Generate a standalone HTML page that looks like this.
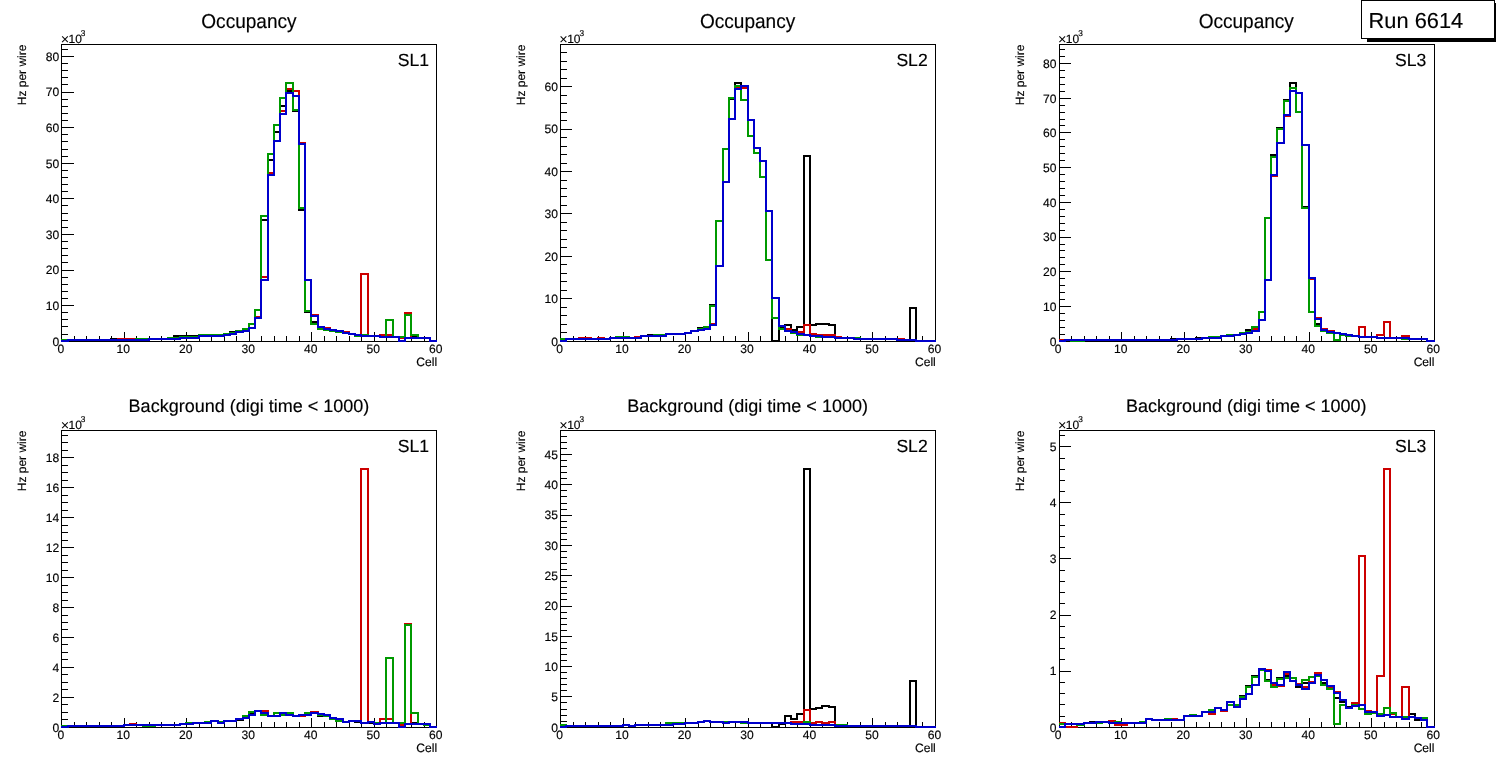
<!DOCTYPE html>
<html lang="en"><head><meta charset="utf-8"><title>Run 6614 - Occupancy</title>
<style>html,body{margin:0;padding:0;background:#fff;}body{width:1496px;height:772px;overflow:hidden;}svg{display:block;}</style>
</head><body>
<svg width="1496" height="772" viewBox="0 0 1496 772" font-family="'Liberation Sans', Arial, Helvetica, sans-serif" fill="#000" stroke="#000" stroke-width="0.15" text-rendering="geometricPrecision">
<rect x="0" y="0" width="1496" height="772" fill="#fff" stroke="none"/>
<g>
<text transform="translate(248.93 27.50) scale(0.943 1)" font-size="20.2" text-anchor="middle">Occupancy</text>
<g stroke="#000" stroke-width="1" fill="none" shape-rendering="crispEdges">
<rect x="61.5" y="44.5" width="375" height="297"/>
<path d="M61.5 342V332M74.5 342V336M86.5 342V336M99.5 342V336M111.5 342V336M124.5 342V332M136.5 342V336M149.5 342V336M161.5 342V336M174.5 342V336M186.5 342V332M199.5 342V336M211.5 342V336M224.5 342V336M236.5 342V336M249.5 342V332M261.5 342V336M274.5 342V336M286.5 342V336M299.5 342V336M311.5 342V332M324.5 342V336M336.5 342V336M349.5 342V336M361.5 342V336M374.5 342V332M386.5 342V336M399.5 342V336M411.5 342V336M424.5 342V336M436.5 342V332M61 341.5H74M61 334.5H68M61 326.5H68M61 319.5H68M61 312.5H68M61 305.5H74M61 298.5H68M61 291.5H68M61 284.5H68M61 277.5H68M61 270.5H74M61 262.5H68M61 255.5H68M61 248.5H68M61 241.5H68M61 234.5H74M61 227.5H68M61 220.5H68M61 213.5H68M61 205.5H68M61 198.5H74M61 191.5H68M61 184.5H68M61 177.5H68M61 170.5H68M61 163.5H74M61 156.5H68M61 149.5H68M61 141.5H68M61 134.5H68M61 127.5H74M61 120.5H68M61 113.5H68M61 106.5H68M61 99.5H68M61 92.5H74M61 84.5H68M61 77.5H68M61 70.5H68M61 63.5H68M61 56.5H74M61 49.5H68"/>
</g>
<g fill="none" stroke-width="2" shape-rendering="crispEdges" stroke-linejoin="miter">
<path d="M61 340H111V339H118V340H136V339H168V338H174V336H199V335H224V334H230V332H236V331H243V329H249V324H255V310H261V220H268V160H274V132H280V106H286V91H293V111H299V210H305V312H311V322H318V329H324V330H330V331H336V332H343V333H349V334H355V336H361V335H368V336H380V337H405V338H411V337H418V338H430V341H437" stroke="#000000"/>
<path d="M61 341H68V340H118V339H136V340H149V339H180V338H199V336H224V335H230V334H236V332H243V331H249V328H255V317H261V277H268V173H274V141H280V111H286V89H293V91H299V143H305V280H311V315H318V327H324V328H330V330H336V331H343V332H349V334H355V335H361V274H368V336H380V335H393V337H399V338H405V313H411V338H430V341H437" stroke="#cc0000"/>
<path d="M61 340H136V339H168V338H180V337H199V335H224V334H230V333H236V331H243V329H249V324H255V310H261V216H268V154H274V125H280V98H286V83H293V110H299V208H305V311H311V324H318V329H324V330H330V331H336V332H343V333H349V334H355V336H361V335H368V336H380V337H386V320H393V337H405V315H411V335H418V338H430V341H437" stroke="#009900"/>
<path d="M61 341H68V340H149V339H180V338H199V336H224V335H230V334H236V332H243V331H249V328H255V318H261V280H268V175H274V141H280V114H286V93H293V96H299V144H305V280H311V316H318V327H324V329H330V330H336V331H343V333H349V334H355V335H361V336H380V337H399V341H405V338H430V341H437" stroke="#0000cc"/>
</g>
<text x="60.83" y="353.12" font-size="12.1" text-anchor="middle">0</text>
<text x="123.33" y="353.12" font-size="12.1" text-anchor="middle">10</text>
<text x="185.83" y="353.12" font-size="12.1" text-anchor="middle">20</text>
<text x="248.33" y="353.12" font-size="12.1" text-anchor="middle">30</text>
<text x="310.83" y="353.12" font-size="12.1" text-anchor="middle">40</text>
<text x="373.33" y="353.12" font-size="12.1" text-anchor="middle">50</text>
<text x="435.83" y="353.12" font-size="12.1" text-anchor="middle">60</text>
<text x="59.23" y="345.52" font-size="12.1" text-anchor="end">0</text>
<text x="59.23" y="309.93" font-size="12.1" text-anchor="end">10</text>
<text x="59.23" y="274.34" font-size="12.1" text-anchor="end">20</text>
<text x="59.23" y="238.75" font-size="12.1" text-anchor="end">30</text>
<text x="59.23" y="203.16" font-size="12.1" text-anchor="end">40</text>
<text x="59.23" y="167.57" font-size="12.1" text-anchor="end">50</text>
<text x="59.23" y="131.98" font-size="12.1" text-anchor="end">60</text>
<text x="59.23" y="96.39" font-size="12.1" text-anchor="end">70</text>
<text x="59.23" y="60.80" font-size="12.1" text-anchor="end">80</text>
<text x="437.13" y="366.02" font-size="12.1" text-anchor="end">Cell</text>
<text transform="translate(26.20 44.58) rotate(-90)" font-size="12.0" text-anchor="end">Hz per wire</text>
<text x="61.23" y="42.88" font-size="12.0"><tspan font-size="14.5" dy="1.3" dx="-0.6" stroke="none">×</tspan><tspan dx="-0.6" dy="-1.3">10</tspan><tspan dy="-6.6" dx="-1.0" font-size="8.3">3</tspan></text>
<text x="429.03" y="66.18" font-size="17.6" text-anchor="end">SL1</text>
</g>
<g>
<text transform="translate(747.60 27.50) scale(0.943 1)" font-size="20.2" text-anchor="middle">Occupancy</text>
<g stroke="#000" stroke-width="1" fill="none" shape-rendering="crispEdges">
<rect x="560.5" y="44.5" width="375" height="297"/>
<path d="M560.5 342V332M573.5 342V336M585.5 342V336M598.5 342V336M610.5 342V336M623.5 342V332M635.5 342V336M648.5 342V336M660.5 342V336M673.5 342V336M685.5 342V332M698.5 342V336M710.5 342V336M723.5 342V336M735.5 342V336M748.5 342V332M760.5 342V336M772.5 342V336M785.5 342V336M797.5 342V336M810.5 342V332M822.5 342V336M835.5 342V336M847.5 342V336M860.5 342V336M872.5 342V332M885.5 342V336M897.5 342V336M910.5 342V336M922.5 342V336M935.5 342V332M560 341.5H572M560 332.5H567M560 324.5H567M560 315.5H567M560 307.5H567M560 298.5H572M560 290.5H567M560 281.5H567M560 273.5H567M560 264.5H567M560 256.5H572M560 247.5H567M560 239.5H567M560 230.5H567M560 222.5H567M560 213.5H572M560 205.5H567M560 196.5H567M560 188.5H567M560 180.5H567M560 171.5H572M560 163.5H567M560 154.5H567M560 146.5H567M560 137.5H567M560 129.5H572M560 120.5H567M560 112.5H567M560 103.5H567M560 95.5H567M560 86.5H572M560 78.5H567M560 69.5H567M560 61.5H567M560 52.5H567"/>
</g>
<g fill="none" stroke-width="2" shape-rendering="crispEdges" stroke-linejoin="miter">
<path d="M560 339H610V338H616V337H629V338H641V336H648V335H666V334H685V333H691V331H698V328H704V327H710V305H716V221H723V149H729V99H735V83H741V100H748V136H754V153H760V177H766V260H772V341H779V328H785V325H791V330H797V327H804V156H810V325H816V324H829V325H835V338H860V339H897V340H910V308H916V341H936" stroke="#000000"/>
<path d="M560 341H566V339H579V338H591V339H598V338H604V339H610V338H635V337H641V336H666V334H685V333H691V331H698V330H704V329H710V324H716V266H723V182H729V119H735V87H741V88H748V120H754V148H760V161H766V211H772V298H779V326H785V329H791V332H804V325H810V334H816V335H835V337H841V338H854V339H904V340H916V341H936" stroke="#cc0000"/>
<path d="M560 339H610V338H616V337H629V338H641V336H654V335H666V334H685V333H691V331H698V329H704V327H710V306H716V221H723V149H729V98H735V86H741V100H748V136H754V153H760V177H766V260H772V318H779V329H785V331H791V333H797V335H810V336H816V337H835V338H860V339H897V340H916V341H936" stroke="#009900"/>
<path d="M560 341H566V339H610V338H641V336H666V334H685V333H691V331H698V330H704V329H710V325H716V266H723V182H729V119H735V89H741V86H748V120H754V148H760V161H766V211H772V298H779V326H785V331H791V332H797V334H804V335H810V336H822V337H835V338H854V339H897V340H916V341H936" stroke="#0000cc"/>
</g>
<text x="559.50" y="353.12" font-size="12.1" text-anchor="middle">0</text>
<text x="622.00" y="353.12" font-size="12.1" text-anchor="middle">10</text>
<text x="684.50" y="353.12" font-size="12.1" text-anchor="middle">20</text>
<text x="747.00" y="353.12" font-size="12.1" text-anchor="middle">30</text>
<text x="809.50" y="353.12" font-size="12.1" text-anchor="middle">40</text>
<text x="872.00" y="353.12" font-size="12.1" text-anchor="middle">50</text>
<text x="934.50" y="353.12" font-size="12.1" text-anchor="middle">60</text>
<text x="557.90" y="345.52" font-size="12.1" text-anchor="end">0</text>
<text x="557.90" y="303.10" font-size="12.1" text-anchor="end">10</text>
<text x="557.90" y="260.69" font-size="12.1" text-anchor="end">20</text>
<text x="557.90" y="218.27" font-size="12.1" text-anchor="end">30</text>
<text x="557.90" y="175.85" font-size="12.1" text-anchor="end">40</text>
<text x="557.90" y="133.43" font-size="12.1" text-anchor="end">50</text>
<text x="557.90" y="91.01" font-size="12.1" text-anchor="end">60</text>
<text x="935.80" y="366.02" font-size="12.1" text-anchor="end">Cell</text>
<text transform="translate(524.87 44.58) rotate(-90)" font-size="12.0" text-anchor="end">Hz per wire</text>
<text x="559.90" y="42.88" font-size="12.0"><tspan font-size="14.5" dy="1.3" dx="-0.6" stroke="none">×</tspan><tspan dx="-0.6" dy="-1.3">10</tspan><tspan dy="-6.6" dx="-1.0" font-size="8.3">3</tspan></text>
<text x="927.70" y="66.18" font-size="17.6" text-anchor="end">SL2</text>
</g>
<g>
<text transform="translate(1246.27 27.50) scale(0.943 1)" font-size="20.2" text-anchor="middle">Occupancy</text>
<g stroke="#000" stroke-width="1" fill="none" shape-rendering="crispEdges">
<rect x="1059.5" y="44.5" width="375" height="297"/>
<path d="M1059.5 342V332M1071.5 342V336M1084.5 342V336M1096.5 342V336M1109.5 342V336M1121.5 342V332M1134.5 342V336M1146.5 342V336M1159.5 342V336M1171.5 342V336M1184.5 342V332M1196.5 342V336M1209.5 342V336M1221.5 342V336M1234.5 342V336M1246.5 342V332M1259.5 342V336M1271.5 342V336M1284.5 342V336M1296.5 342V336M1309.5 342V332M1321.5 342V336M1334.5 342V336M1346.5 342V336M1359.5 342V336M1371.5 342V332M1384.5 342V336M1396.5 342V336M1409.5 342V336M1421.5 342V336M1434.5 342V332M1059 341.5H1071M1059 334.5H1065M1059 327.5H1065M1059 320.5H1065M1059 313.5H1065M1059 306.5H1071M1059 299.5H1065M1059 292.5H1065M1059 285.5H1065M1059 278.5H1065M1059 271.5H1071M1059 264.5H1065M1059 257.5H1065M1059 250.5H1065M1059 244.5H1065M1059 237.5H1071M1059 230.5H1065M1059 223.5H1065M1059 216.5H1065M1059 209.5H1065M1059 202.5H1071M1059 195.5H1065M1059 188.5H1065M1059 181.5H1065M1059 174.5H1065M1059 167.5H1071M1059 160.5H1065M1059 153.5H1065M1059 146.5H1065M1059 139.5H1065M1059 132.5H1071M1059 125.5H1065M1059 119.5H1065M1059 112.5H1065M1059 105.5H1065M1059 98.5H1071M1059 91.5H1065M1059 84.5H1065M1059 77.5H1065M1059 70.5H1065M1059 63.5H1071M1059 56.5H1065M1059 49.5H1065"/>
</g>
<g fill="none" stroke-width="2" shape-rendering="crispEdges" stroke-linejoin="miter">
<path d="M1059 341H1065V340H1171V339H1196V338H1209V337H1221V336H1227V335H1240V333H1246V330H1252V327H1259V312H1265V218H1271V155H1277V128H1284V100H1290V83H1296V112H1302V207H1309V312H1315V324H1321V331H1327V333H1340V335H1346V336H1359V337H1377V338H1402V339H1427V341H1435" stroke="#000000"/>
<path d="M1059 340H1177V339H1202V338H1221V336H1234V335H1240V334H1246V333H1252V329H1259V320H1265V280H1271V176H1277V143H1284V116H1290V91H1296V93H1302V145H1309V279H1315V318H1321V329H1327V331H1334V333H1340V334H1346V335H1352V336H1359V327H1365V337H1377V335H1384V322H1390V338H1402V336H1409V339H1427V341H1435" stroke="#cc0000"/>
<path d="M1059 341H1065V340H1071V341H1084V340H1177V339H1202V338H1209V337H1221V336H1227V335H1240V333H1246V332H1252V327H1259V312H1265V218H1271V157H1277V129H1284V101H1290V88H1296V112H1302V208H1309V312H1315V326H1321V331H1327V333H1334V340H1340V335H1346V336H1359V337H1377V338H1402V339H1427V341H1435" stroke="#009900"/>
<path d="M1059 341H1065V340H1177V339H1202V338H1221V336H1234V335H1240V334H1246V333H1252V331H1259V320H1265V280H1271V175H1277V143H1284V115H1290V91H1296V93H1302V145H1309V278H1315V319H1321V330H1327V332H1334V333H1340V334H1346V335H1352V336H1359V337H1377V338H1409V339H1427V341H1435" stroke="#0000cc"/>
</g>
<text x="1058.17" y="353.12" font-size="12.1" text-anchor="middle">0</text>
<text x="1120.67" y="353.12" font-size="12.1" text-anchor="middle">10</text>
<text x="1183.17" y="353.12" font-size="12.1" text-anchor="middle">20</text>
<text x="1245.67" y="353.12" font-size="12.1" text-anchor="middle">30</text>
<text x="1308.17" y="353.12" font-size="12.1" text-anchor="middle">40</text>
<text x="1370.67" y="353.12" font-size="12.1" text-anchor="middle">50</text>
<text x="1433.17" y="353.12" font-size="12.1" text-anchor="middle">60</text>
<text x="1056.57" y="345.52" font-size="12.1" text-anchor="end">0</text>
<text x="1056.57" y="310.81" font-size="12.1" text-anchor="end">10</text>
<text x="1056.57" y="276.09" font-size="12.1" text-anchor="end">20</text>
<text x="1056.57" y="241.37" font-size="12.1" text-anchor="end">30</text>
<text x="1056.57" y="206.65" font-size="12.1" text-anchor="end">40</text>
<text x="1056.57" y="171.93" font-size="12.1" text-anchor="end">50</text>
<text x="1056.57" y="137.22" font-size="12.1" text-anchor="end">60</text>
<text x="1056.57" y="102.50" font-size="12.1" text-anchor="end">70</text>
<text x="1056.57" y="67.78" font-size="12.1" text-anchor="end">80</text>
<text x="1434.47" y="366.02" font-size="12.1" text-anchor="end">Cell</text>
<text transform="translate(1023.53 44.58) rotate(-90)" font-size="12.0" text-anchor="end">Hz per wire</text>
<text x="1058.57" y="42.88" font-size="12.0"><tspan font-size="14.5" dy="1.3" dx="-0.6" stroke="none">×</tspan><tspan dx="-0.6" dy="-1.3">10</tspan><tspan dy="-6.6" dx="-1.0" font-size="8.3">3</tspan></text>
<text x="1426.37" y="66.18" font-size="17.6" text-anchor="end">SL3</text>
</g>
<g>
<text transform="translate(248.93 411.70) scale(1.0 1)" font-size="18.0" text-anchor="middle">Background (digi time &lt; 1000)</text>
<g stroke="#000" stroke-width="1" fill="none" shape-rendering="crispEdges">
<rect x="61.5" y="430.5" width="375" height="297"/>
<path d="M61.5 728V718M74.5 728V722M86.5 728V722M99.5 728V722M111.5 728V722M124.5 728V718M136.5 728V722M149.5 728V722M161.5 728V722M174.5 728V722M186.5 728V718M199.5 728V722M211.5 728V722M224.5 728V722M236.5 728V722M249.5 728V718M261.5 728V722M274.5 728V722M286.5 728V722M299.5 728V722M311.5 728V718M324.5 728V722M336.5 728V722M349.5 728V722M361.5 728V722M374.5 728V718M386.5 728V722M399.5 728V722M411.5 728V722M424.5 728V722M436.5 728V718M61 727.5H74M61 719.5H68M61 712.5H68M61 704.5H68M61 697.5H74M61 689.5H68M61 682.5H68M61 674.5H68M61 667.5H74M61 659.5H68M61 652.5H68M61 644.5H68M61 637.5H74M61 629.5H68M61 622.5H68M61 615.5H68M61 607.5H74M61 600.5H68M61 592.5H68M61 585.5H68M61 577.5H74M61 570.5H68M61 562.5H68M61 555.5H68M61 547.5H74M61 540.5H68M61 532.5H68M61 525.5H68M61 517.5H74M61 510.5H68M61 502.5H68M61 495.5H68M61 487.5H74M61 480.5H68M61 472.5H68M61 465.5H68M61 457.5H74M61 450.5H68M61 442.5H68M61 435.5H68"/>
</g>
<g fill="none" stroke-width="2" shape-rendering="crispEdges" stroke-linejoin="miter">
<path d="M61 726H124V725H143V726H155V725H180V724H186V723H205V722H211V721H218V722H224V721H236V720H243V716H249V713H255V711H261V715H268V716H274V713H280V715H286V713H293V716H299V715H305V713H318V716H330V719H336V721H343V722H349V721H355V722H361V723H405V724H411V723H418V724H424V725H430V727H437" stroke="#000000"/>
<path d="M61 727H68V726H124V725H130V724H136V725H180V724H193V723H211V721H218V723H224V721H236V719H243V718H249V715H255V711H268V716H280V713H286V715H293V716H305V715H311V712H318V714H324V715H330V718H336V719H343V722H349V721H361V469H368V722H374V724H380V719H393V723H399V725H405V624H411V724H430V727H437" stroke="#cc0000"/>
<path d="M61 726H124V725H143V726H155V725H180V724H186V723H205V722H211V721H218V722H224V721H236V719H243V716H249V712H255V711H261V715H268V716H274V713H280V715H286V713H293V716H299V715H305V713H318V715H324V716H330V719H336V721H343V722H349V721H361V723H368V722H374V723H386V658H393V723H405V625H411V713H418V724H424V725H430V727H437" stroke="#009900"/>
<path d="M61 727H68V726H124V725H180V724H193V723H211V721H218V723H224V721H236V719H243V718H249V715H255V711H261V713H268V716H280V713H286V715H293V716H299V715H311V713H318V714H324V715H330V718H336V719H343V722H349V721H361V723H368V722H374V724H380V723H399V727H405V724H430V727H437" stroke="#0000cc"/>
</g>
<text x="60.83" y="739.12" font-size="12.1" text-anchor="middle">0</text>
<text x="123.33" y="739.12" font-size="12.1" text-anchor="middle">10</text>
<text x="185.83" y="739.12" font-size="12.1" text-anchor="middle">20</text>
<text x="248.33" y="739.12" font-size="12.1" text-anchor="middle">30</text>
<text x="310.83" y="739.12" font-size="12.1" text-anchor="middle">40</text>
<text x="373.33" y="739.12" font-size="12.1" text-anchor="middle">50</text>
<text x="435.83" y="739.12" font-size="12.1" text-anchor="middle">60</text>
<text x="59.23" y="731.52" font-size="12.1" text-anchor="end">0</text>
<text x="59.23" y="701.60" font-size="12.1" text-anchor="end">2</text>
<text x="59.23" y="671.68" font-size="12.1" text-anchor="end">4</text>
<text x="59.23" y="641.76" font-size="12.1" text-anchor="end">6</text>
<text x="59.23" y="611.83" font-size="12.1" text-anchor="end">8</text>
<text x="59.23" y="581.91" font-size="12.1" text-anchor="end">10</text>
<text x="59.23" y="551.99" font-size="12.1" text-anchor="end">12</text>
<text x="59.23" y="522.07" font-size="12.1" text-anchor="end">14</text>
<text x="59.23" y="492.15" font-size="12.1" text-anchor="end">16</text>
<text x="59.23" y="462.22" font-size="12.1" text-anchor="end">18</text>
<text x="437.13" y="752.02" font-size="12.1" text-anchor="end">Cell</text>
<text transform="translate(26.20 430.58) rotate(-90)" font-size="12.0" text-anchor="end">Hz per wire</text>
<text x="61.23" y="428.88" font-size="12.0"><tspan font-size="14.5" dy="1.3" dx="-0.6" stroke="none">×</tspan><tspan dx="-0.6" dy="-1.3">10</tspan><tspan dy="-6.6" dx="-1.0" font-size="8.3">3</tspan></text>
<text x="429.03" y="452.18" font-size="17.6" text-anchor="end">SL1</text>
</g>
<g>
<text transform="translate(747.60 411.70) scale(1.0 1)" font-size="18.0" text-anchor="middle">Background (digi time &lt; 1000)</text>
<g stroke="#000" stroke-width="1" fill="none" shape-rendering="crispEdges">
<rect x="560.5" y="430.5" width="375" height="297"/>
<path d="M560.5 728V718M573.5 728V722M585.5 728V722M598.5 728V722M610.5 728V722M623.5 728V718M635.5 728V722M648.5 728V722M660.5 728V722M673.5 728V722M685.5 728V718M698.5 728V722M710.5 728V722M723.5 728V722M735.5 728V722M748.5 728V718M760.5 728V722M772.5 728V722M785.5 728V722M797.5 728V722M810.5 728V718M822.5 728V722M835.5 728V722M847.5 728V722M860.5 728V722M872.5 728V718M885.5 728V722M897.5 728V722M910.5 728V722M922.5 728V722M935.5 728V718M560 727.5H572M560 721.5H567M560 715.5H567M560 709.5H567M560 702.5H567M560 696.5H572M560 690.5H567M560 684.5H567M560 678.5H567M560 672.5H567M560 666.5H572M560 660.5H567M560 654.5H567M560 648.5H567M560 642.5H567M560 636.5H572M560 630.5H567M560 624.5H567M560 618.5H567M560 612.5H567M560 606.5H572M560 599.5H567M560 593.5H567M560 587.5H567M560 581.5H567M560 575.5H572M560 569.5H567M560 563.5H567M560 557.5H567M560 551.5H567M560 545.5H572M560 539.5H567M560 533.5H567M560 527.5H567M560 521.5H567M560 515.5H572M560 509.5H567M560 503.5H567M560 496.5H567M560 490.5H567M560 484.5H572M560 478.5H567M560 472.5H567M560 466.5H567M560 460.5H567M560 454.5H572M560 448.5H567M560 442.5H567M560 436.5H567"/>
</g>
<g fill="none" stroke-width="2" shape-rendering="crispEdges" stroke-linejoin="miter">
<path d="M560 727H566V726H623V725H629V726H635V725H673V724H685V723H698V722H704V721H710V722H723V723H729V722H748V723H772V727H779V724H785V716H791V719H797V714H804V469H810V709H816V708H822V706H829V707H835V726H910V681H916V727H936" stroke="#000000"/>
<path d="M560 727H566V726H623V725H629V726H635V725H673V724H685V723H698V722H704V721H710V722H723V723H729V722H748V723H791V722H804V710H810V723H816V722H822V723H829V722H835V726H916V727H936" stroke="#cc0000"/>
<path d="M560 725H566V726H623V725H629V726H635V725H666V723H698V722H704V721H710V722H741V723H791V724H804V722H810V725H847V726H916V727H936" stroke="#009900"/>
<path d="M560 727H566V726H623V725H629V726H635V725H673V724H685V723H698V722H704V721H710V722H723V723H729V722H748V723H791V724H810V725H835V726H916V727H936" stroke="#0000cc"/>
</g>
<text x="559.50" y="739.12" font-size="12.1" text-anchor="middle">0</text>
<text x="622.00" y="739.12" font-size="12.1" text-anchor="middle">10</text>
<text x="684.50" y="739.12" font-size="12.1" text-anchor="middle">20</text>
<text x="747.00" y="739.12" font-size="12.1" text-anchor="middle">30</text>
<text x="809.50" y="739.12" font-size="12.1" text-anchor="middle">40</text>
<text x="872.00" y="739.12" font-size="12.1" text-anchor="middle">50</text>
<text x="934.50" y="739.12" font-size="12.1" text-anchor="middle">60</text>
<text x="557.90" y="731.52" font-size="12.1" text-anchor="end">0</text>
<text x="557.90" y="701.23" font-size="12.1" text-anchor="end">5</text>
<text x="557.90" y="670.93" font-size="12.1" text-anchor="end">10</text>
<text x="557.90" y="640.63" font-size="12.1" text-anchor="end">15</text>
<text x="557.90" y="610.33" font-size="12.1" text-anchor="end">20</text>
<text x="557.90" y="580.03" font-size="12.1" text-anchor="end">25</text>
<text x="557.90" y="549.73" font-size="12.1" text-anchor="end">30</text>
<text x="557.90" y="519.43" font-size="12.1" text-anchor="end">35</text>
<text x="557.90" y="489.13" font-size="12.1" text-anchor="end">40</text>
<text x="557.90" y="458.84" font-size="12.1" text-anchor="end">45</text>
<text x="935.80" y="752.02" font-size="12.1" text-anchor="end">Cell</text>
<text transform="translate(524.87 430.58) rotate(-90)" font-size="12.0" text-anchor="end">Hz per wire</text>
<text x="559.90" y="428.88" font-size="12.0"><tspan font-size="14.5" dy="1.3" dx="-0.6" stroke="none">×</tspan><tspan dx="-0.6" dy="-1.3">10</tspan><tspan dy="-6.6" dx="-1.0" font-size="8.3">3</tspan></text>
<text x="927.70" y="452.18" font-size="17.6" text-anchor="end">SL2</text>
</g>
<g>
<text transform="translate(1246.27 411.70) scale(1.0 1)" font-size="18.0" text-anchor="middle">Background (digi time &lt; 1000)</text>
<g stroke="#000" stroke-width="1" fill="none" shape-rendering="crispEdges">
<rect x="1059.5" y="430.5" width="375" height="297"/>
<path d="M1059.5 728V718M1071.5 728V722M1084.5 728V722M1096.5 728V722M1109.5 728V722M1121.5 728V718M1134.5 728V722M1146.5 728V722M1159.5 728V722M1171.5 728V722M1184.5 728V718M1196.5 728V722M1209.5 728V722M1221.5 728V722M1234.5 728V722M1246.5 728V718M1259.5 728V722M1271.5 728V722M1284.5 728V722M1296.5 728V722M1309.5 728V718M1321.5 728V722M1334.5 728V722M1346.5 728V722M1359.5 728V722M1371.5 728V718M1384.5 728V722M1396.5 728V722M1409.5 728V722M1421.5 728V722M1434.5 728V718M1059 727.5H1071M1059 716.5H1065M1059 704.5H1065M1059 693.5H1065M1059 682.5H1065M1059 671.5H1071M1059 659.5H1065M1059 648.5H1065M1059 637.5H1065M1059 626.5H1065M1059 615.5H1071M1059 603.5H1065M1059 592.5H1065M1059 581.5H1065M1059 570.5H1065M1059 558.5H1071M1059 547.5H1065M1059 536.5H1065M1059 525.5H1065M1059 514.5H1065M1059 502.5H1071M1059 491.5H1065M1059 480.5H1065M1059 469.5H1065M1059 458.5H1065M1059 446.5H1071M1059 435.5H1065"/>
</g>
<g fill="none" stroke-width="2" shape-rendering="crispEdges" stroke-linejoin="miter">
<path d="M1059 724H1077V725H1084V723H1090V722H1096V723H1102V722H1109V723H1115V722H1121V723H1140V722H1146V719H1152V720H1165V719H1171V720H1184V716H1190V715H1196V716H1202V712H1209V710H1215V708H1221V710H1227V705H1240V696H1246V686H1252V676H1259V670H1265V680H1271V687H1277V678H1284V676H1290V678H1296V687H1302V683H1309V677H1315V676H1321V683H1327V689H1334V698H1340V702H1346V707H1352V705H1359V709H1365V711H1371V713H1377V714H1384V708H1390V713H1396V717H1409V714H1415V720H1421V718H1427V727H1435" stroke="#000000"/>
<path d="M1059 723H1065V727H1077V724H1084V723H1096V722H1109V721H1115V725H1127V723H1146V719H1152V720H1171V719H1177V720H1184V716H1202V712H1209V714H1215V708H1221V711H1227V702H1234V707H1240V699H1246V694H1252V685H1259V669H1265V670H1271V685H1277V686H1284V674H1290V681H1296V684H1302V687H1309V682H1315V673H1321V680H1327V687H1334V692H1340V700H1346V708H1352V703H1359V556H1365V711H1371V712H1377V676H1384V469H1390V714H1396V717H1402V687H1409V717H1415V718H1421V720H1427V727H1435" stroke="#cc0000"/>
<path d="M1059 724H1077V725H1084V723H1102V722H1109V723H1115V722H1121V723H1140V722H1146V719H1152V720H1165V719H1171V720H1184V716H1190V715H1196V716H1202V712H1209V710H1215V708H1221V710H1227V705H1240V697H1246V687H1252V677H1259V670H1265V681H1271V687H1277V679H1284V678H1296V685H1302V680H1309V677H1315V676H1321V685H1327V689H1334V724H1340V705H1346V708H1352V705H1359V709H1365V714H1371V713H1377V714H1384V708H1390V713H1396V717H1415V718H1427V727H1435" stroke="#009900"/>
<path d="M1059 727H1065V724H1084V723H1096V722H1109V723H1146V719H1152V720H1184V716H1202V712H1215V708H1221V710H1227V702H1234V707H1240V699H1246V694H1252V685H1259V669H1265V671H1271V683H1277V685H1284V672H1290V681H1296V685H1302V689H1309V683H1315V675H1321V680H1327V686H1334V693H1340V700H1346V708H1352V706H1359V705H1365V712H1377V716H1384V715H1390V717H1402V719H1409V717H1415V718H1421V720H1427V727H1435" stroke="#0000cc"/>
</g>
<text x="1058.17" y="739.12" font-size="12.1" text-anchor="middle">0</text>
<text x="1120.67" y="739.12" font-size="12.1" text-anchor="middle">10</text>
<text x="1183.17" y="739.12" font-size="12.1" text-anchor="middle">20</text>
<text x="1245.67" y="739.12" font-size="12.1" text-anchor="middle">30</text>
<text x="1308.17" y="739.12" font-size="12.1" text-anchor="middle">40</text>
<text x="1370.67" y="739.12" font-size="12.1" text-anchor="middle">50</text>
<text x="1433.17" y="739.12" font-size="12.1" text-anchor="middle">60</text>
<text x="1056.57" y="731.52" font-size="12.1" text-anchor="end">0</text>
<text x="1056.57" y="675.45" font-size="12.1" text-anchor="end">1</text>
<text x="1056.57" y="619.37" font-size="12.1" text-anchor="end">2</text>
<text x="1056.57" y="563.30" font-size="12.1" text-anchor="end">3</text>
<text x="1056.57" y="507.22" font-size="12.1" text-anchor="end">4</text>
<text x="1056.57" y="451.14" font-size="12.1" text-anchor="end">5</text>
<text x="1434.47" y="752.02" font-size="12.1" text-anchor="end">Cell</text>
<text transform="translate(1023.53 430.58) rotate(-90)" font-size="12.0" text-anchor="end">Hz per wire</text>
<text x="1058.57" y="428.88" font-size="12.0"><tspan font-size="14.5" dy="1.3" dx="-0.6" stroke="none">×</tspan><tspan dx="-0.6" dy="-1.3">10</tspan><tspan dy="-6.6" dx="-1.0" font-size="8.3">3</tspan></text>
<text x="1426.37" y="452.18" font-size="17.6" text-anchor="end">SL3</text>
</g>
<g shape-rendering="crispEdges">
<rect x="1367" y="3" width="132" height="39" fill="#000" stroke="none"/>
<rect x="1361.5" y="0.5" width="133" height="38" fill="#fff" stroke="#000" stroke-width="1"/>
</g>
<text x="1368.6" y="27.9" font-size="21.8">Run 6614</text>
</svg>
</body></html>
